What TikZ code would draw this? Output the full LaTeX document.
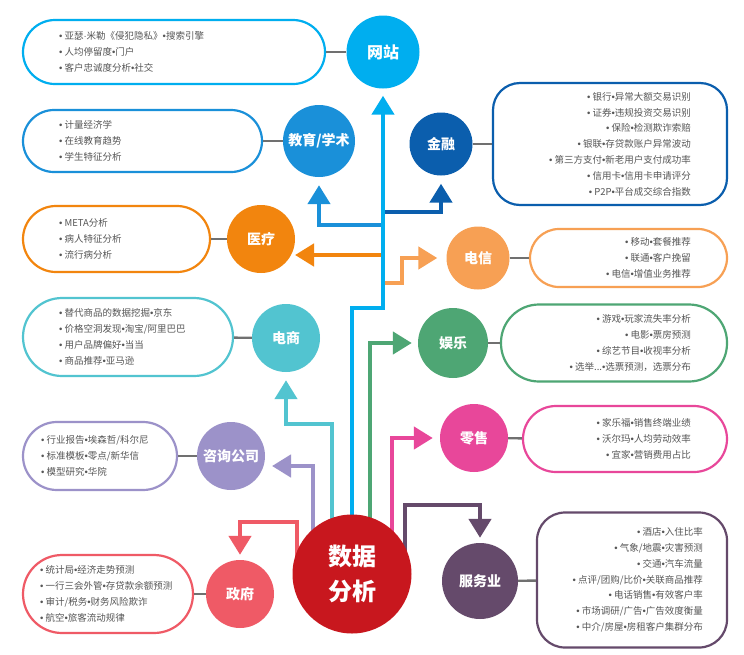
\documentclass[tikz,border=0pt]{standalone}
\usepackage{fontspec}
\setmainfont{Noto Sans CJK SC}
\newfontfamily\bulfont{Liberation Sans}
\newcommand{\bu}{{\bulfont •}}
\newcommand{\bl}{{\bulfont •}\ }
\newcommand{\mdt}{{\bulfont ·}}
\usetikzlibrary{arrows.meta}
\definecolor{cWeb}{HTML}{00AEEF}
\definecolor{cEdu}{HTML}{1A90D9}
\definecolor{cFin}{HTML}{0B5EAD}
\definecolor{cTel}{HTML}{F7A054}
\definecolor{cMed}{HTML}{F2850E}
\definecolor{cEcom}{HTML}{52C4D0}
\definecolor{cEnt}{HTML}{4EA674}
\definecolor{cRet}{HTML}{E8479A}
\definecolor{cCons}{HTML}{9C92C9}
\definecolor{cGov}{HTML}{EF5A66}
\definecolor{cHub}{HTML}{C8171E}
\definecolor{cSvc}{HTML}{654A6B}
\definecolor{cText}{HTML}{565656}
\definecolor{cLink}{HTML}{707070}
\pgfdeclarelayer{bg}
\pgfsetlayers{bg,main}
\tikzset{
  circ/.style={circle, inner sep=0pt, text=white, font=\bfseries\fontsize{14}{16}\selectfont},
  box/.style={draw, line width=2.2pt, fill=white, inner sep=0pt},
  txtl/.style={anchor=west, align=left, inner sep=0pt, text=cText, font=\fontsize{9.5}{15.8}\selectfont},
  txtr/.style={anchor=east, align=right, inner sep=0pt, text=cText, font=\fontsize{9.5}{15.8}\selectfont},
  link/.style={draw=cLink, line width=2.4pt},
  arr/.style={line width=4.5pt, -{Triangle[width=22pt,length=19pt]}}
}
\begin{document}
\begin{tikzpicture}[x=1pt,y=-1pt]
\useasboundingbox (0,0) rectangle (744,654);
\begin{pgfonlayer}{bg}
\fill[white] (0,0) rectangle (744,654);
\end{pgfonlayer}

% boxes
\node[box, draw=cWeb, minimum width=302pt, minimum height=64pt, rounded corners=32pt] (webbox) at (174,52) {};
\node[box, draw=cEdu, minimum width=239pt, minimum height=62pt, rounded corners=31pt] (edubox) at (142.5,141) {};
\node[box, draw=cFin, minimum width=234pt, minimum height=122pt, rounded corners=27pt] (finbox) at (610,144) {};
\node[box, draw=cTel, minimum width=197pt, minimum height=58pt, rounded corners=29pt] (telbox) at (628.5,258) {};
\node[box, draw=cMed, minimum width=187pt, minimum height=66pt, rounded corners=33pt] (medbox) at (116.5,239) {};
\node[box, draw=cEcom, minimum width=210pt, minimum height=78pt, rounded corners=39pt] (ecombox) at (128,337) {};
\node[box, draw=cEnt, minimum width=226pt, minimum height=77pt, rounded corners=38pt] (entbox) at (614,343) {};
\node[box, draw=cRet, minimum width=204pt, minimum height=66pt, rounded corners=33pt] (retbox) at (625,439) {};
\node[box, draw=cCons, minimum width=154pt, minimum height=68pt, rounded corners=34pt] (consbox) at (100,456) {};
\node[box, draw=cGov, minimum width=170pt, minimum height=78pt, rounded corners=39pt] (govbox) at (108,594) {};
\node[box, draw=cSvc, minimum width=190pt, minimum height=135pt, rounded corners=28pt] (svcbox) at (632,580) {};

% box texts
\node[txtl] at ([xshift=37pt]webbox.west) {\bl 亚瑟\mdt 米勒《侵犯隐私》\bu 搜索引擎\\\bl 人均停留度\bu 门户\\\bl 客户忠诚度分析\bu 社交};
\node[txtl] at ([xshift=37pt]edubox.west) {\bl 计量经济学\\\bl 在线教育趋势\\\bl 学生特征分析};
\node[txtr] at ([xshift=-37pt]finbox.east) {\bl 银行\bu 异常大额交易识别\\\bl 证券\bu 违规投资交易识别\\\bl 保险\bu 检测欺诈索赔\\\bl 银联\bu 存贷款账户异常波动\\\bl 第三方支付\bu 新老用户支付成功率\\\bl 信用卡\bu 信用卡申请评分\\\bl P2P\bu 平台成交综合指数};
\node[txtr] at ([xshift=-37pt]telbox.east) {\bl 移动\bu 套餐推荐\\\bl 联通\bu 客户挽留\\\bl 电信\bu 增值业务推荐};
\node[txtl] at ([xshift=37pt]medbox.west) {\bl META分析\\\bl 病人特征分析\\\bl 流行病分析};
\node[txtl] at ([xshift=37pt]ecombox.west) {\bl 替代商品的数据挖掘\bu 京东\\\bl 价格空洞发现\bu 淘宝/阿里巴巴\\\bl 用户品牌偏好\bu 当当\\\bl 商品推荐\bu 亚马逊};
\node[txtr] at ([xshift=-37pt]entbox.east) {\bl 游戏\bu 玩家流失率分析\\\bl 电影\bu 票房预测\\\bl 综艺节目\bu 收视率分析\\\bl 选举...\bu 选票预测，选票分布};
\node[txtr] at ([xshift=-37pt]retbox.east) {\bl 家乐福\bu 销售终端业绩\\\bl 沃尔玛\bu 人均劳动效率\\\bl 宜家\bu 营销费用占比};
\node[txtl] at ([xshift=19pt]consbox.west) {\bl 行业报告\bu 埃森哲/科尔尼\\\bl 标准模板\bu 零点/新华信\\\bl 模型研究\bu 华院};
\node[txtl] at ([xshift=18pt]govbox.west) {\bl 统计局\bu 经济走势预测\\\bl 一行三会外管\bu 存贷款余额预测\\\bl 审计/税务\bu 财务风险欺诈\\\bl 航空\bu 旅客流动规律};
\node[txtr] at ([xshift=-25pt]svcbox.east) {\bl 酒店\bu 入住比率\\\bl 气象/地震\bu 灾害预测\\\bl 交通\bu 汽车流量\\\bl 点评/团购/比价\bu 关联商品推荐\\\bl 电话销售\bu 有效客户率\\\bl 市场调研/广告\bu 广告效度衡量\\\bl 中介/房屋\bu 房租客户集群分布};

% circles
\node[circ, fill=cWeb, minimum size=73pt, font=\bfseries\fontsize{16}{18}\selectfont] (web) at (383,52) {网站};
\node[circ, fill=cEdu, minimum size=72pt] (edu) at (319,141) {教育/学术};
\node[circ, fill=cFin, minimum size=63pt] (fin) at (441,144) {金融};
\node[circ, fill=cTel, minimum size=63pt] (tel) at (478,258) {电信};
\node[circ, fill=cMed, minimum size=68pt] (med) at (261,239) {医疗};
\node[circ, fill=cEcom, minimum size=68pt] (ecom) at (286,338) {电商};
\node[circ, fill=cEnt, minimum size=70pt] (ent) at (453,343) {娱乐};
\node[circ, fill=cRet, minimum size=68pt] (ret) at (474,438) {零售};
\node[circ, fill=cCons, minimum size=68pt] (cons) at (231,456) {咨询公司};
\node[circ, fill=cGov, minimum size=68pt] (gov) at (240,594) {政府};
\node[circ, fill=cSvc, minimum size=76pt] (svc) at (480,581) {服务业};
\node[circ, fill=cHub, minimum size=119pt, font=\bfseries\fontsize{24}{35}\selectfont, align=center] (hub) at (352,574) {数据\\分析};

% gray links
\draw[link] (web) -- (webbox);
\draw[link] (edu) -- (edubox);
\draw[link] (fin) -- (finbox);
\draw[link] (tel) -- (telbox);
\draw[link] (med) -- (medbox);
\draw[link] (ecom) -- (ecombox);
\draw[link] (ent) -- (entbox);
\draw[link] (ret) -- (retbox);
\draw[link] (cons) -- (consbox);
\draw[link] (gov) -- (govbox);
\draw[link] (svc) -- (svcbox);

% arrows (behind nodes)
\coordinate (wb) at (352,308);
\coordinate (eb) at (383,225);
\coordinate (fb) at (383,212);
\coordinate (mb) at (383,255);
\coordinate (mt) at (295,255);
\coordinate (tb) at (383,283);
\coordinate (tk) at (402,258);
\coordinate (es) at (332,545);
\coordinate (ek) at (332,424);
\coordinate (ns) at (370,545);
\coordinate (rs) at (392,545);
\coordinate (ss) at (405,560);
\coordinate (sk) at (405,505);
\coordinate (cs) at (313,545);
\coordinate (ct) at (272,466);
\coordinate (gs) at (297,560);
\coordinate (gk) at (297,522);
\begin{pgfonlayer}{bg}
\draw[arr, cEdu, shorten >=8pt] (eb) -| (edu.south);
\draw[arr, cFin, shorten >=8pt] (fb) -| (fin.south);
\draw[arr, cMed] (mb) -- (mt);
\draw[arr, cTel, shorten >=9pt] (tb) -| (tk) -- (tel.west);
\draw[arr, cWeb, shorten >=7pt] (hub.center) -- (wb) -| (web.south);
\draw[arr, cEcom, shorten >=8pt] (es) -- (ek) -| (ecom.south);
\draw[arr, cEnt, shorten >=6pt] (ns) |- (ent.west);
\draw[arr, cRet, shorten >=7pt] (rs) |- (ret.west);
\draw[arr, cSvc, shorten >=5pt] (ss) -- (sk) -| (svc.north);
\draw[arr, cCons] (cs) |- (ct);
\draw[arr, cGov, shorten >=5pt] (gs) -- (gk) -| (gov.north);
\end{pgfonlayer}
\end{tikzpicture}
\end{document}
